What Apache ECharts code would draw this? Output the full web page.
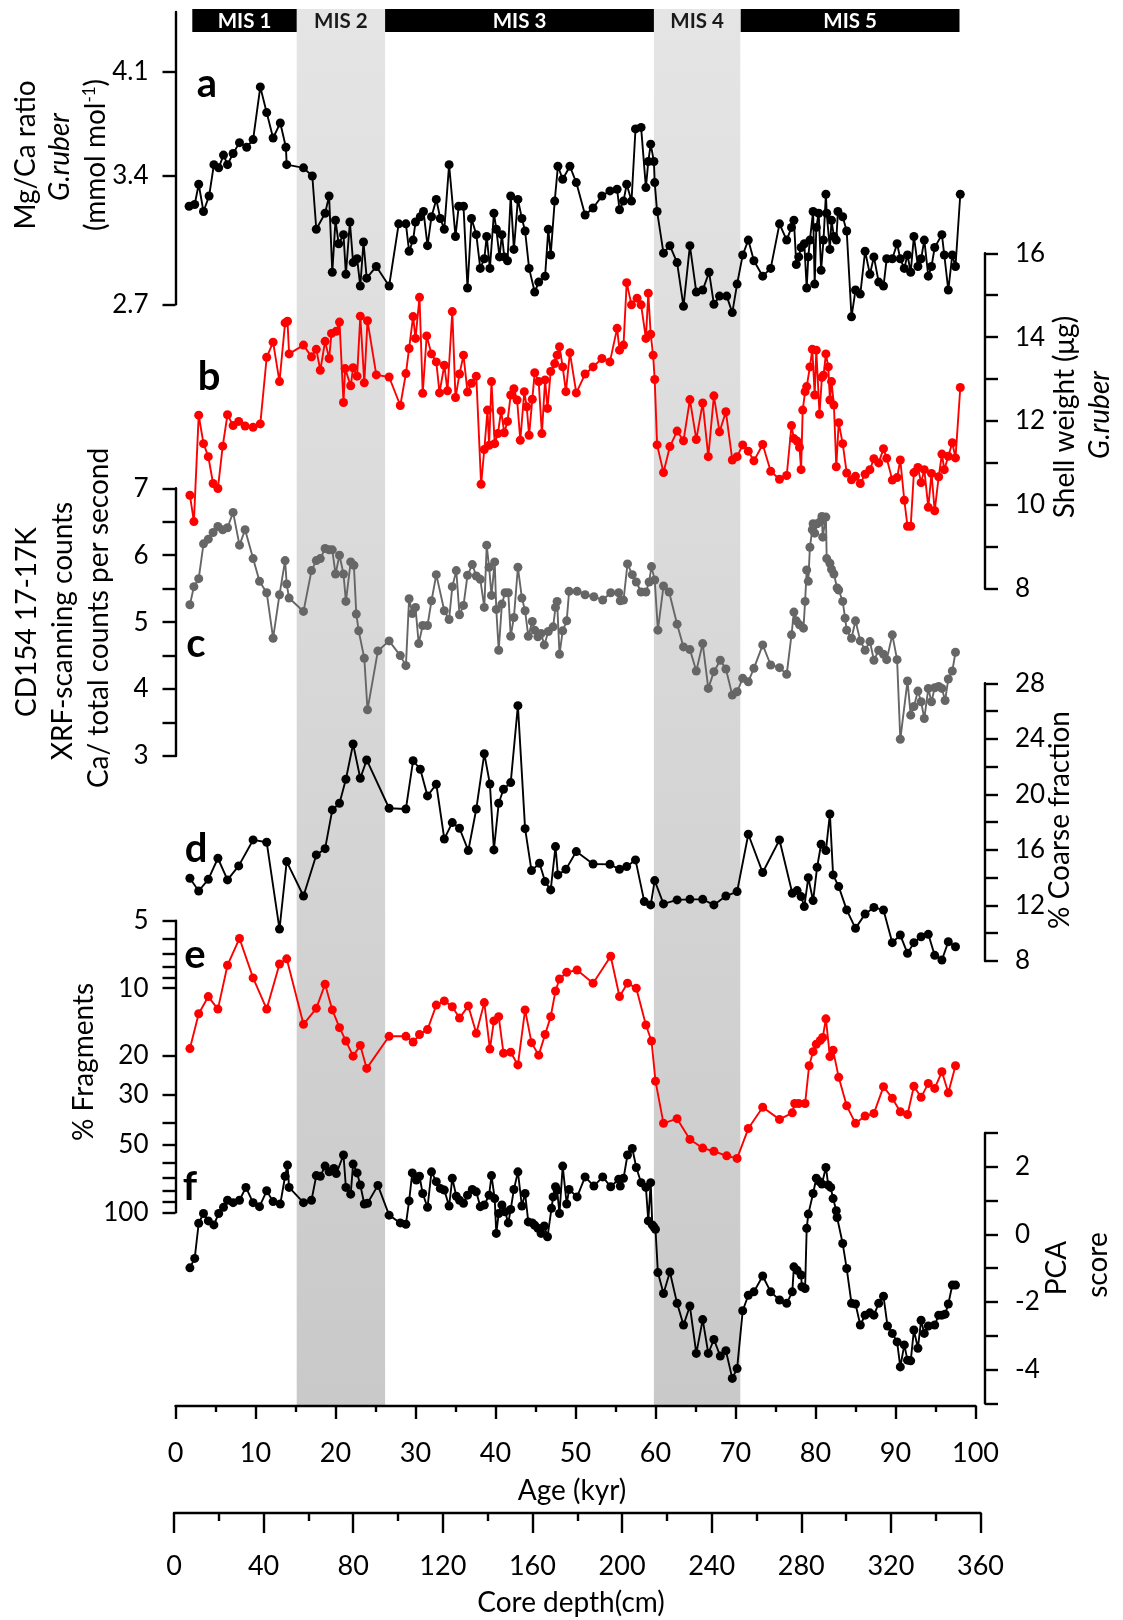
<!DOCTYPE html>
<html>
<head>
<meta charset="utf-8">
<script src="https://cdn.jsdelivr.net/npm/echarts@6/dist/echarts.min.js"></script>
<style>
  html, body { margin: 0; padding: 0; background: #fff; }
  #chart { width: 1123px; height: 1620px; }
</style>
</head>
<body>
<div id="chart"></div>
<script>
// ---------------- Marine isotope stages ----------------
const misNames   = ['MIS 1', 'MIS 2', 'MIS 3', 'MIS 4', 'MIS 5'];
const misStart   = [2.1, 15.15, 26.2, 59.8, 70.65];
const misEnd     = [15.15, 26.2, 59.8, 70.6, 98.0];
const misGlacial = [false, true, false, true, false];

// ---------------- (a) Mg/Ca ratio, G. ruber (mmol/mol) ----------------
const ageMgCa = [1.7,2.4,2.9,3.5,4.2,4.8,5.4,6.0,6.5,7.2,8.0,8.9,9.7,10.6,11.4,12.2,13.1,13.8,13.9,16.0,
  17.1,17.6,18.7,19.2,19.6,20.0,20.4,21.0,21.3,21.8,22.2,22.7,23.1,23.5,23.9,25.1,26.7,27.9,28.8,29.2,
  29.7,30.0,30.6,31.0,31.5,32.0,32.6,33.1,33.6,34.2,35.0,35.4,36.0,36.5,37.0,37.6,38.1,38.6,38.9,39.3,
  39.8,40.1,40.5,40.8,41.1,41.5,41.9,42.3,42.8,43.3,43.7,44.2,44.9,45.4,46.2,46.6,46.9,47.4,47.8,48.4,
  49.3,50.1,51.2,52.2,53.3,54.3,55.2,55.5,56.0,56.4,57.0,57.5,58.2,58.8,59.1,59.4,59.8,59.9,60.2,61.0,
  61.8,62.7,63.5,64.3,65.1,65.9,66.7,67.3,68.0,68.9,69.6,70.2,70.9,71.6,72.3,73.4,74.4,75.5,76.4,77.0,
  77.3,77.6,77.9,78.2,78.6,78.9,79.1,79.3,79.7,79.9,80.1,80.4,80.7,81.0,81.3,81.4,81.8,82.0,82.3,82.6,
  82.8,83.4,83.9,84.5,85.0,85.6,86.2,86.8,87.3,87.9,88.5,88.9,89.6,90.2,90.6,91.1,91.5,91.9,92.3,92.8,
  93.2,93.6,94.1,94.5,94.9,95.8,96.1,96.6,97.1,97.5,98.1];
const mgCa = [3.22,3.23,3.35,3.19,3.28,3.47,3.45,3.53,3.47,3.54,3.61,3.58,3.63,3.99,3.81,3.64,3.74,3.58,3.47,3.45,
  3.40,3.09,3.18,3.28,2.86,3.14,3.01,3.06,2.85,3.13,2.91,2.93,2.79,3.02,2.83,2.89,2.79,3.12,3.12,2.97,
  3.03,3.13,3.16,3.19,3.00,3.16,3.26,3.15,3.09,3.47,3.05,3.22,3.22,2.78,3.15,3.06,2.88,2.93,3.05,2.88,
  3.18,3.09,2.94,3.06,2.94,2.92,3.28,2.98,3.26,3.15,3.08,2.88,2.76,2.81,2.84,3.09,2.95,3.25,3.46,3.38,
  3.46,3.36,3.17,3.21,3.28,3.31,3.32,3.20,3.25,3.35,3.25,3.70,3.71,3.33,3.49,3.60,3.49,3.36,3.19,2.96,
  3.00,2.91,2.69,3.00,2.76,2.77,2.86,2.70,2.74,2.74,2.66,2.80,2.95,3.03,2.92,2.84,2.88,3.12,3.03,3.10,
  3.14,2.90,2.94,2.99,3.01,2.78,2.94,3.03,3.19,2.80,3.10,3.18,2.87,3.03,3.29,3.18,2.98,3.14,3.05,3.03,
  3.19,3.16,3.08,2.64,2.77,2.75,2.97,2.85,2.94,2.81,2.79,2.93,2.93,3.01,2.93,2.88,2.95,2.86,3.05,2.89,
  2.93,3.03,2.84,2.89,2.99,3.06,2.95,2.77,2.95,2.89,3.29];
const mgCaTicks = [2.7, 3.4, 4.1];

// ---------------- (b) Shell weight, G. ruber (µg) ----------------
const ageShell = [1.8,2.3,2.9,3.5,4.1,4.7,5.3,5.9,6.5,7.2,7.9,8.7,9.7,10.6,11.4,12.2,13.0,13.7,14.0,14.2,
  16.0,17.0,17.6,18.1,18.7,19.2,19.5,20.1,20.5,21.0,21.2,21.9,22.2,22.7,23.1,23.6,24.0,25.1,26.7,28.1,
  28.8,29.2,29.7,30.0,30.5,30.9,31.4,32.0,32.6,33.0,33.6,34.0,34.6,35.0,35.5,36.0,36.5,37.0,37.6,38.2,
  38.6,39.0,39.2,39.5,39.9,40.3,40.7,41.1,41.5,41.9,42.3,42.7,43.1,43.6,43.9,44.2,44.6,44.9,45.4,45.8,
  46.2,46.5,46.9,47.4,47.7,48.0,48.4,48.8,49.3,50.1,51.2,52.2,53.3,54.3,55.2,55.5,56.0,56.4,57.0,57.7,
  58.2,58.8,59.1,59.4,59.7,59.9,60.2,61.0,61.8,62.7,63.5,64.3,65.1,65.9,66.6,67.3,68.0,68.8,69.6,70.2,
  70.9,71.6,72.3,73.4,74.4,75.5,76.4,77.0,77.3,77.7,78.0,78.2,78.4,78.7,78.9,79.3,79.6,79.9,80.1,80.5,
  80.8,81.0,81.3,81.6,81.8,82.0,82.3,82.6,82.9,83.4,83.9,84.5,85.0,85.6,86.2,86.8,87.3,87.9,88.5,88.9,
  89.6,90.2,90.6,91.1,91.5,91.9,92.3,92.8,93.2,93.6,94.1,94.5,94.9,95.4,95.8,96.1,96.6,97.1,97.5,98.1];
const shellWeight = [10.23,9.60,12.14,11.46,11.15,10.51,10.39,11.40,12.15,11.89,11.99,11.88,11.85,11.93,13.52,13.88,12.94,14.34,14.38,13.60,
  13.81,13.53,13.71,13.21,13.90,13.49,14.09,14.14,14.36,12.44,13.25,12.84,13.27,13.07,14.50,12.91,14.39,13.10,13.05,12.37,
  13.13,13.73,14.49,13.97,14.95,12.66,14.03,13.60,13.41,12.67,13.33,12.72,14.61,12.56,13.12,13.57,12.69,12.90,13.07,10.49,
  11.32,12.26,11.42,12.94,11.46,11.70,12.24,11.72,11.99,12.62,12.77,12.50,11.54,12.70,12.34,11.66,12.52,13.15,12.94,11.70,
  12.98,12.30,13.18,13.37,13.57,13.77,13.29,12.70,13.63,12.67,13.12,13.29,13.49,13.41,14.21,13.69,13.81,15.30,14.77,14.93,
  14.77,13.97,15.05,14.07,13.57,12.99,11.43,10.77,11.39,11.76,11.53,12.51,11.56,12.43,11.15,12.60,11.74,12.22,11.07,11.15,
  11.43,11.28,11.05,11.44,10.80,10.61,10.70,11.89,11.58,11.52,11.37,10.84,12.26,12.70,12.82,13.29,13.71,12.62,13.69,12.16,
  13.04,13.09,13.60,13.29,12.50,12.94,12.38,10.91,11.96,11.46,10.76,10.60,10.68,10.51,10.73,10.84,11.10,11.00,11.34,11.11,
  10.59,10.65,11.07,10.11,9.49,9.49,10.77,10.89,10.53,10.84,9.94,10.75,9.86,10.67,11.21,10.84,11.16,11.48,11.12,12.80];

// ---------------- (c) XRF Ca / total counts per second ----------------
const ageXrf = [1.8,2.3,2.9,3.5,4.1,4.7,5.3,5.9,6.5,7.2,8.0,8.7,9.7,10.5,11.4,12.2,13.0,13.7,13.9,14.2,
  16.0,17.0,17.6,18.1,18.7,19.2,19.6,20.0,20.5,21.0,21.3,21.9,22.3,22.6,22.9,23.6,24.0,25.3,26.7,28.1,
  28.8,29.2,29.6,30.0,30.4,30.9,31.5,32.0,32.6,33.6,34.2,34.6,35.1,35.5,36.0,36.5,37.1,37.6,38.1,38.6,
  38.9,39.2,39.5,39.9,40.1,40.4,40.8,41.2,41.6,41.9,42.3,42.8,43.3,43.7,44.1,44.6,44.9,45.3,45.7,46.1,
  46.6,47.2,47.5,47.7,48.0,48.4,48.9,49.2,50.2,51.2,52.3,53.4,54.4,55.4,55.6,56.0,56.5,57.1,57.6,58.2,
  58.8,59.2,59.5,59.9,60.3,61.0,61.7,62.7,63.5,64.3,65.1,65.9,66.6,67.3,68.1,68.8,69.6,70.2,70.9,71.6,
  72.3,73.4,74.4,75.5,76.4,77.0,77.3,77.6,78.0,78.5,78.7,78.9,79.1,79.3,79.6,79.7,79.9,80.2,80.6,80.8,
  80.9,81.3,81.4,81.8,82.0,82.3,82.7,82.9,83.4,83.7,83.9,84.5,85.0,85.6,86.2,86.8,87.3,87.9,88.5,88.9,
  89.6,90.2,90.6,91.5,91.9,92.3,92.8,93.2,93.6,94.1,94.5,94.9,95.4,95.8,96.2,96.6,97.1,97.5];
const xrfCa = [5.26,5.53,5.65,6.17,6.24,6.34,6.43,6.38,6.41,6.64,6.15,6.38,5.95,5.61,5.44,4.76,5.41,5.92,5.57,5.36,
  5.16,5.77,5.92,5.95,6.10,6.08,6.08,5.72,6.00,5.72,5.31,5.90,5.85,5.12,4.87,4.46,3.69,4.57,4.72,4.50,
  4.35,5.35,5.13,5.22,4.68,4.95,4.95,5.32,5.71,5.17,5.04,5.53,5.77,5.11,5.25,5.70,5.86,5.69,5.64,5.22,
  6.15,5.82,5.40,5.90,5.19,4.58,5.27,5.44,5.44,4.79,5.07,5.82,5.36,5.17,4.79,5.01,4.88,4.78,4.83,4.66,
  4.86,4.93,5.22,5.31,4.52,4.87,5.02,5.46,5.46,5.41,5.38,5.33,5.44,5.44,5.32,5.33,5.87,5.71,5.60,5.45,
  5.45,5.60,5.83,5.63,4.88,5.54,5.45,4.97,4.63,4.59,4.27,4.68,4.01,4.26,4.43,4.30,3.91,3.96,4.16,4.11,
  4.31,4.66,4.36,4.32,4.22,4.81,5.15,5.02,4.96,4.91,5.31,5.78,5.61,6.12,6.38,6.47,6.33,6.47,6.50,6.58,
  6.27,6.57,5.95,5.88,5.79,5.72,5.51,5.48,5.31,5.06,4.88,4.76,5.02,4.72,4.58,4.71,4.43,4.58,4.52,4.44,
  4.81,4.44,3.25,4.12,3.61,3.74,3.97,3.81,3.56,4.01,3.81,4.02,4.04,4.01,3.83,4.15,4.27,4.55];

// ---------------- (d) % Coarse fraction ----------------
const ageCoarse = [1.8,2.9,4.1,5.3,6.5,7.9,9.7,11.4,13.0,13.9,16.0,17.6,18.7,19.6,20.5,21.3,22.2,23.1,23.9,26.7,
  28.8,29.7,30.6,31.5,32.6,33.6,34.6,35.5,36.6,37.6,38.6,39.3,39.8,40.4,41.0,41.9,42.8,43.7,44.5,45.5,
  46.2,46.9,47.5,47.8,48.8,50.1,52.2,54.3,55.5,56.4,57.5,58.6,59.4,59.9,61.0,62.7,64.3,65.9,67.3,68.8,
  70.2,71.6,73.4,75.5,77.1,77.7,78.2,78.6,79.1,79.7,80.2,80.7,81.3,81.8,82.2,82.9,83.9,85.0,86.2,87.3,
  88.5,89.6,90.6,91.5,92.3,93.2,94.1,94.9,95.8,96.6,97.5];
const coarseFraction = [13.96,13.04,13.88,15.40,13.84,14.85,16.72,16.55,10.30,15.16,12.68,15.64,16.09,18.88,19.36,21.09,23.63,21.16,22.48,19.00,
  18.95,22.43,21.81,19.89,20.73,16.79,17.97,17.56,15.95,18.95,22.93,20.75,16.00,19.36,20.37,20.85,26.39,17.53,14.51,15.04,
  13.72,13.12,16.24,14.20,14.60,15.88,14.99,14.96,14.60,14.80,15.28,12.28,12.04,13.79,12.11,12.40,12.44,12.44,12.04,12.68,
  13.00,17.13,14.37,16.72,12.88,13.07,12.64,11.92,14.00,12.35,14.75,16.41,15.95,18.59,14.20,13.36,11.68,10.35,11.38,11.86,
  11.67,9.32,9.87,8.55,9.32,9.75,9.92,8.41,8.07,9.39,9.03];

// ---------------- (e) % Fragments ----------------
const ageFrag = [1.8,2.9,4.1,5.3,6.5,8.0,9.7,11.4,13.0,13.9,16.0,17.6,18.7,19.6,20.5,21.3,22.2,23.1,23.9,26.7,
  28.8,29.7,30.5,31.5,32.6,33.6,34.6,35.5,36.6,37.6,38.6,39.3,39.8,40.4,41.0,41.9,42.8,43.7,44.5,45.4,
  46.2,46.9,47.5,48.0,48.9,50.2,52.2,54.4,55.5,56.5,57.6,58.8,59.5,60.0,61.0,62.7,64.3,65.9,67.3,68.9,
  70.2,71.6,73.4,75.5,77.1,77.4,77.9,78.7,79.2,79.7,80.1,80.6,80.9,81.3,81.8,82.2,82.9,83.9,85.0,86.2,
  87.3,88.5,89.6,90.6,91.5,92.3,93.2,94.1,94.9,95.8,96.6,97.5];
const fragments = [18.6,13.0,10.9,12.4,7.9,6.0,9.0,12.4,7.8,7.4,14.5,12.3,9.6,12.5,15.0,17.2,20.1,18.0,22.8,16.4,
  16.4,17.4,16.1,15.3,11.9,11.4,12.1,13.6,12.0,15.9,11.6,18.7,14.0,13.4,19.5,19.3,22.0,12.5,17.5,19.9,
  16.1,13.4,10.3,9.1,8.5,8.3,9.5,7.2,10.9,9.5,10.0,14.6,17.2,26.0,40.1,38.2,47.3,51.7,53.4,56.0,
  57.5,42.3,34.0,38.5,36.0,32.7,32.7,32.7,22.2,19.2,17.8,17.1,16.6,13.7,20.2,18.9,25.0,33.5,40.1,37.2,
  36.2,27.5,31.0,35.6,36.6,27.4,30.7,26.6,28.0,23.6,29.3,22.2];
const fragTicks  = [5,6,7,8,9,10,20,30,40,50,60,70,80,90,100];
const fragLabels = [5,10,20,30,50,100];

// ---------------- (f) PCA score ----------------
const agePca = [1.8,2.4,2.9,3.5,4.1,4.8,5.4,6.0,6.5,7.2,8.0,8.8,9.7,10.5,11.4,12.2,13.1,13.7,14.0,14.2,
  16.0,17.0,17.6,18.1,18.7,19.2,19.8,20.1,21.0,21.3,21.9,22.2,22.7,23.1,23.6,24.0,25.3,26.7,28.1,28.8,
  29.2,29.6,30.1,30.5,30.9,31.5,32.0,32.6,33.1,33.6,34.2,34.6,35.1,35.5,36.0,36.5,37.1,37.6,38.1,38.6,
  39.2,39.5,39.9,40.1,40.4,40.8,41.2,41.6,41.9,42.3,42.8,43.3,43.7,44.1,44.6,44.9,45.3,45.7,46.1,46.5,
  47.0,47.2,47.5,47.7,48.0,48.4,48.9,49.2,50.2,51.2,52.3,53.4,54.4,55.4,55.6,56.0,56.5,57.1,57.6,58.2,
  58.8,59.1,59.4,59.6,59.8,60.0,60.3,61.0,61.8,62.7,63.5,64.3,65.1,65.9,66.6,67.3,68.1,68.8,69.6,70.2,
  70.9,71.6,72.3,73.4,74.4,75.5,76.4,77.1,77.3,77.7,78.2,78.3,78.7,78.9,79.1,79.7,80.1,80.5,80.8,81.3,
  81.6,81.9,82.2,82.6,82.7,83.4,83.9,84.5,85.0,85.6,86.2,86.8,87.3,87.9,88.5,89.0,89.6,90.2,90.6,91.1,
  91.5,91.9,92.3,92.8,93.2,93.6,94.1,94.9,95.4,95.8,96.2,96.6,97.1,97.5];
const pcaScore = [-0.99,-0.71,0.33,0.62,0.40,0.28,0.62,0.80,1.01,0.94,1.01,1.39,0.94,0.82,1.29,0.97,0.90,1.72,2.05,1.39,
  0.94,1.01,1.74,1.72,2.02,1.85,1.95,1.80,2.35,1.39,1.19,2.08,1.82,1.46,0.90,0.92,1.45,0.57,0.34,0.30,
  0.99,1.82,1.61,1.72,1.21,0.80,1.85,1.56,1.36,1.31,0.84,1.66,1.13,1.01,0.92,1.16,1.33,1.26,0.82,0.87,
  1.16,1.74,1.06,0.03,0.62,0.87,0.67,0.34,0.74,1.33,1.85,0.84,1.21,0.37,0.34,0.27,0.18,0.03,0.25,-0.07,
  0.77,1.11,1.41,1.31,0.62,2.02,0.90,1.33,1.11,1.70,1.43,1.70,1.41,1.63,1.43,1.66,2.35,2.54,1.98,1.53,
  1.39,0.40,1.53,0.28,0.22,0.15,-1.13,-1.75,-1.11,-2.04,-2.68,-2.12,-3.52,-2.52,-3.52,-3.11,-3.60,-3.44,-4.26,-3.97,
  -2.26,-1.80,-1.70,-1.23,-1.70,-1.94,-2.04,-1.70,-0.96,-1.06,-1.20,-1.55,-1.60,0.18,0.60,1.21,1.66,1.56,1.49,1.98,
  1.46,1.39,1.06,0.70,0.50,-0.27,-1.01,-2.04,-2.06,-2.68,-2.39,-2.32,-2.39,-2.04,-1.83,-2.71,-2.93,-3.18,-3.92,-3.27,
  -3.72,-3.74,-2.83,-3.37,-2.54,-2.93,-2.71,-2.68,-2.39,-2.39,-2.36,-2.06,-1.50,-1.50];

// ---------------- helpers ----------------
const FONT = 'Lato';
const BLACK = '#000';
const RED = '#ff0000';
const GREY = '#666666';

function pairs(xs, ys) {
  const n = Math.min(xs.length, ys.length);
  const out = [];
  for (let i = 0; i < n; i++) out.push([xs[i], ys[i]]);
  return out;
}

const axisLine = { show: true, onZero: false, lineStyle: { color: BLACK, width: 2.4 } };
const tickStyle = { color: BLACK, width: 2.4 };
const labelStyle = { color: BLACK, fontFamily: FONT, fontSize: 26 };

// plot area shared by every panel along the age axis
const LEFT = 175.5, RIGHT = 1123 - 975.5;
function grid(top, height) {
  return { left: LEFT, right: RIGHT, top: top, height: height, outerBoundsMode: 'none', containLabel: false };
}

const grids = [
  grid(9, 1397),        // 0: stage shading + age axis
  grid(9, 23),          // 1: stage header
  grid(12, 292.3),      // 2: (a)
  grid(253.3, 335.4),   // 3: (b)
  grid(488.3, 267.7),   // 4: (c)
  grid(683.3, 277.7),   // 5: (d)
  grid(920.7, 291.6),   // 6: (e)
  grid(1133, 270.4),    // 7: (f)
  { left: 174, right: 1123 - 980.5, top: 1413, height: 100, outerBoundsMode: 'none' } // 8: depth axis
];

const hiddenX = i => ({ gridIndex: i, type: 'value', min: 0, max: 100, show: false });
const hiddenY = i => ({ gridIndex: i, type: 'value', min: 0, max: 1, show: false });

const xAxes = [
  {
    gridIndex: 0, type: 'value', min: 0, max: 100, interval: 10, position: 'bottom',
    axisLine: axisLine,
    axisTick: { show: true, length: 13, lineStyle: tickStyle },
    minorTick: { show: true, splitNumber: 2, length: 6, lineStyle: tickStyle },
    axisLabel: Object.assign({ margin: 34 }, labelStyle, { fontSize: 27 }),
    splitLine: { show: false }, minorSplitLine: { show: false }
  },
  hiddenX(1), hiddenX(2), hiddenX(3), hiddenX(4), hiddenX(5), hiddenX(6), hiddenX(7),
  {
    gridIndex: 8, type: 'value', min: 0, max: 360, interval: 40, position: 'bottom',
    axisLine: axisLine,
    axisTick: { show: true, length: 20, lineStyle: tickStyle },
    minorTick: { show: true, splitNumber: 2, length: 8, lineStyle: tickStyle },
    axisLabel: Object.assign({ margin: 40 }, labelStyle, { fontSize: 27 }),
    splitLine: { show: false }, minorSplitLine: { show: false }
  }
];

function sideAxis(gi, opts) {
  return Object.assign({
    gridIndex: gi, type: 'value',
    axisLine: axisLine,
    axisTick: { show: true, inside: false, length: 13, lineStyle: tickStyle },
    axisLabel: Object.assign({ margin: 28 }, labelStyle),
    splitLine: { show: false }
  }, opts);
}

const yAxes = [
  hiddenY(0),
  hiddenY(1),
  sideAxis(2, {
    type: 'log', logBase: 10, min: 2.7, max: 4.565, position: 'left',
    axisTick: { show: true, inside: false, length: 13, lineStyle: tickStyle, customValues: mgCaTicks },
    axisLabel: Object.assign({ margin: 27, customValues: mgCaTicks, formatter: v => (+v).toFixed(1) }, labelStyle)
  }),
  sideAxis(3, {
    min: 8, max: 16, interval: 1, position: 'right', offset: 9.5,
    axisLabel: Object.assign({ margin: 30, formatter: v => (v % 2 === 0 ? String(v) : '') }, labelStyle)
  }),
  sideAxis(4, {
    min: 3, max: 7, interval: 0.5, position: 'left',
    axisLabel: Object.assign({ margin: 27, formatter: v => (Number.isInteger(v) ? String(v) : '') }, labelStyle)
  }),
  sideAxis(5, {
    min: 8, max: 28, interval: 2, position: 'right', offset: 9.5,
    axisLabel: Object.assign({ margin: 30, formatter: v => (v % 4 === 0 ? String(v) : '') }, labelStyle)
  }),
  sideAxis(6, {
    type: 'log', logBase: 10, min: 5, max: 100, inverse: true, position: 'left',
    axisTick: { show: true, inside: false, length: 13, lineStyle: tickStyle, customValues: fragTicks },
    axisLabel: Object.assign({ margin: 27, customValues: fragLabels, formatter: v => String(Math.round(v)) }, labelStyle)
  }),
  sideAxis(7, {
    min: -5, max: 3, interval: 1, position: 'right', offset: 9.5,
    axisLabel: Object.assign({ margin: 30, formatter: v => (v % 2 === 0 ? String(v) : '') }, labelStyle)
  }),
  hiddenY(8)
];

function lineSeries(idx, data, color) {
  return {
    type: 'line', xAxisIndex: idx, yAxisIndex: idx, data: data,
    symbol: 'circle', symbolSize: 9, showSymbol: true,
    lineStyle: { color: color, width: 1.9 },
    itemStyle: { color: color },
    clip: false, z: 5, silent: true, animation: false,
    emphasis: { disabled: true }
  };
}

const stageData = misStart.map((s, i) => [s, misEnd[i], i]);

const series = [
  // glacial stage shading
  {
    type: 'custom', xAxisIndex: 0, yAxisIndex: 0, z: 0, silent: true,
    data: stageData.filter(d => misGlacial[d[2]]),
    renderItem: function (params, api) {
      const p0 = api.coord([api.value(0), 1]);
      const p1 = api.coord([api.value(1), 0]);
      return {
        type: 'rect',
        shape: { x: p0[0], y: p0[1], width: p1[0] - p0[0], height: p1[1] - p0[1] },
        style: {
          fill: {
            type: 'linear', x: 0, y: 0, x2: 0, y2: 1,
            colorStops: [{ offset: 0, color: '#e5e5e5' }, { offset: 1, color: '#c9c9c9' }]
          }
        }
      };
    }
  },
  // stage header boxes and names
  {
    type: 'custom', xAxisIndex: 1, yAxisIndex: 1, z: 6, silent: true,
    data: stageData,
    renderItem: function (params, api) {
      const i = api.value(2);
      const p0 = api.coord([api.value(0), 1]);
      const p1 = api.coord([api.value(1), 0]);
      const children = [];
      if (!misGlacial[i]) {
        children.push({
          type: 'rect',
          shape: { x: p0[0], y: p0[1], width: p1[0] - p0[0], height: p1[1] - p0[1] },
          style: { fill: '#000' }
        });
      }
      children.push({
        type: 'text',
        style: {
          text: misNames[i], x: (p0[0] + p1[0]) / 2, y: (p0[1] + p1[1]) / 2 + 1,
          align: 'center', verticalAlign: 'middle',
          fill: misGlacial[i] ? '#1a1a1a' : '#ffffff',
          fontFamily: FONT, fontSize: 20.5, fontWeight: 'bold'
        }
      });
      return { type: 'group', children: children };
    }
  },
  lineSeries(2, pairs(ageMgCa, mgCa), BLACK),
  lineSeries(3, pairs(ageShell, shellWeight), RED),
  lineSeries(4, pairs(ageXrf, xrfCa), GREY),
  lineSeries(5, pairs(ageCoarse, coarseFraction), BLACK),
  lineSeries(6, pairs(ageFrag, fragments), RED),
  lineSeries(7, pairs(agePca, pcaScore), BLACK)
];

// rotated axis titles (read bottom to top)
const TITLE_SIZE = 28;
function vText(x, y, text, extra) {
  return {
    type: 'text', x: x, y: y, rotation: Math.PI / 2, silent: true, z: 10,
    style: Object.assign({
      text: text, align: 'center', verticalAlign: 'middle',
      fill: '#000', fontFamily: FONT, fontSize: TITLE_SIZE
    }, extra || {})
  };
}
function hText(x, y, text, extra) {
  return {
    type: 'text', x: x, y: y, silent: true, z: 10,
    style: Object.assign({
      text: text, align: 'center', verticalAlign: 'middle',
      fill: '#000', fontFamily: FONT, fontSize: TITLE_SIZE
    }, extra || {})
  };
}
const letter = (x, y, t) => hText(x, y, t, { fontSize: 40, fontWeight: 'bold' });

const graphics = [
  vText(26, 155, 'Mg/Ca ratio'),
  vText(60, 157, 'G.ruber', { fontStyle: 'italic' }),
  vText(96, 155, '(mmol mol{sup|-1})', {
    rich: { sup: { fontFamily: FONT, fontSize: 17, verticalAlign: 'top', padding: [0, 0, 13, 0] } }
  }),
  vText(1065, 417, 'Shell weight (μg)'),
  vText(1100, 415, 'G.ruber', { fontStyle: 'italic' }),
  vText(27, 622, 'CD154 17-17K'),
  vText(63, 631, 'XRF-scanning counts'),
  vText(99, 618, 'Ca/ total counts per second'),
  vText(1060, 820, '% Coarse fraction'),
  vText(84, 1062, '% Fragments'),
  vText(1057, 1268, 'PCA'),
  vText(1098, 1265, 'score'),
  hText(572, 1491, 'Age (kyr)'),
  hText(571, 1603, 'Core depth(cm)'),
  letter(207, 84, 'a'),
  letter(209, 377, 'b'),
  letter(196, 644, 'c'),
  letter(196, 849, 'd'),
  letter(195, 955, 'e'),
  letter(190, 1187, 'f')
];

const chart = echarts.init(document.getElementById('chart'), null, { renderer: 'canvas' });
chart.setOption({
  animation: false,
  backgroundColor: '#ffffff',
  textStyle: { fontFamily: FONT },
  grid: grids,
  xAxis: xAxes,
  yAxis: yAxes,
  series: series,
  graphic: graphics
});
</script>
</body>
</html>
